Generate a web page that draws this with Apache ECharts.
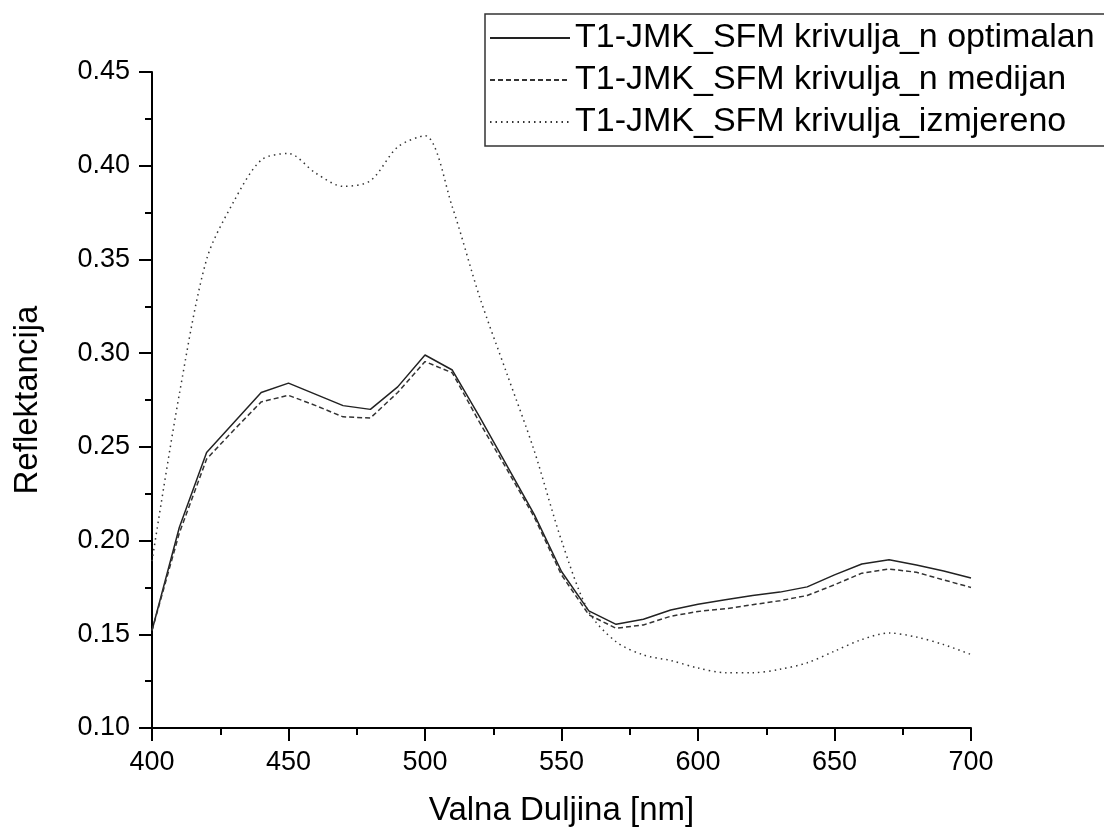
<!DOCTYPE html>
<html>
<head>
<meta charset="utf-8">
<script src="https://cdn.jsdelivr.net/npm/echarts@6/dist/echarts.min.js"></script>
<style>
html,body{margin:0;padding:0;background:#fff;overflow:hidden;}
#chart{width:1104px;height:832px;}
</style>
</head>
<body>
<div id="chart"></div>
<script>
const wavelengths = [400,410,420,430,440,450,460,470,480,490,500,510,520,530,540,550,560,570,580,590,600,610,620,630,640,650,660,670,680,690,700];
const optimalan = [0.152,0.207,0.247,0.263,0.279,0.284,0.278,0.272,0.270,0.282,0.299,0.291,0.266,0.240,0.214,0.1835,0.1625,0.1553,0.158,0.163,0.166,0.1684,0.1707,0.1725,0.1753,0.1817,0.1875,0.1898,0.187,0.1838,0.180];
const medijan = [0.152,0.204,0.2435,0.259,0.274,0.2775,0.272,0.266,0.2654,0.279,0.2955,0.2895,0.263,0.238,0.2126,0.1817,0.1604,0.1532,0.155,0.1596,0.1622,0.1636,0.1658,0.1679,0.1707,0.1764,0.1826,0.1848,0.1831,0.179,0.175];
const izmjereno = [0.189,0.278,0.350,0.381,0.403,0.4065,0.396,0.389,0.392,0.410,0.416,0.378,0.330,0.289,0.248,0.200,0.162,0.146,0.139,0.136,0.132,0.1295,0.1295,0.1313,0.1348,0.141,0.1472,0.1507,0.1485,0.1445,0.1392];
const seriesNames = ['T1-JMK_SFM krivulja_n optimalan','T1-JMK_SFM krivulja_n medijan','T1-JMK_SFM krivulja_izmjereno'];
const xAxisTitle = 'Valna Duljina [nm]';
const yAxisTitle = 'Reflektancija';

const font = '"Liberation Sans", Arial, sans-serif';
function pairs(vals){ return wavelengths.map((w,i)=>[w, vals[i]]); }

const chart = echarts.init(document.getElementById('chart'));
chart.setOption({
  animation:false,
  backgroundColor:'#fff',
  grid:{left:152, right:133, top:72, bottom:101, containLabel:false},
  legend:{
    orient:'vertical', left:485, top:14,
    data:seriesNames,
    itemWidth:80, itemHeight:14, itemGap:8,
    padding:[7,30,7,4],
    borderColor:'#333', borderWidth:1.5,
    itemStyle:{opacity:0},
    textStyle:{fontFamily:font, fontSize:34, color:'#000', lineHeight:34},
    selectedMode:false
  },
  xAxis:{
    type:'value', min:400, max:700, interval:50,
    name:xAxisTitle, nameLocation:'middle', nameGap:66,
    nameTextStyle:{fontFamily:font, fontSize:33, color:'#000'},
    axisLine:{show:true, onZero:false, lineStyle:{color:'#000', width:2}},
    axisTick:{show:true, inside:false, length:13, lineStyle:{color:'#000', width:2}},
    minorTick:{show:true, splitNumber:2, length:7, lineStyle:{color:'#000', width:2}},
    axisLabel:{fontFamily:font, fontSize:27, color:'#000', margin:21},
    splitLine:{show:false}
  },
  yAxis:{
    type:'value', min:0.10, max:0.45, interval:0.05,
    name:yAxisTitle, nameLocation:'middle', nameGap:108, nameRotate:90,
    nameTextStyle:{fontFamily:font, fontSize:33, color:'#000'},
    axisLine:{show:true, onZero:false, lineStyle:{color:'#000', width:2}},
    axisTick:{show:true, inside:false, length:13, lineStyle:{color:'#000', width:2}},
    minorTick:{show:true, splitNumber:2, length:7, lineStyle:{color:'#000', width:2}},
    axisLabel:{fontFamily:font, fontSize:27, color:'#000', margin:22, formatter:v=>v.toFixed(2)},
    splitLine:{show:false}
  },
  series:[
    {name:seriesNames[0], type:'line', data:pairs(optimalan), symbol:'none', showSymbol:false,
     lineStyle:{color:'#222', width:1.5, type:'solid'}, itemStyle:{color:'#222'}},
    {name:seriesNames[1], type:'line', data:pairs(medijan), symbol:'none', showSymbol:false,
     lineStyle:{color:'#333', width:1.5, type:[5,3]}, itemStyle:{color:'#333'}},
    {name:seriesNames[2], type:'line', data:pairs(izmjereno), symbol:'none', showSymbol:false, smooth:0.3,
     lineStyle:{color:'#333', width:1.5, type:[1.5,4]}, itemStyle:{color:'#333'}}
  ]
});
</script>
</body>
</html>
